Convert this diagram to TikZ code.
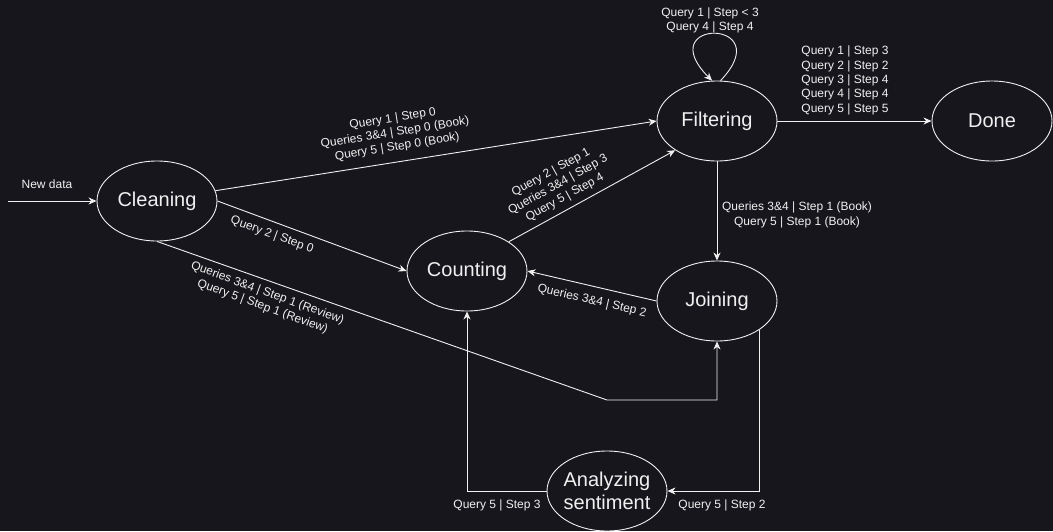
\documentclass[tikz,border=0pt]{standalone}
\usepackage{fontspec}
\setmainfont{Liberation Sans}
\usetikzlibrary{shapes.geometric,arrows.meta}
\definecolor{bgc}{RGB}{24,22,29}
\definecolor{fgc}{RGB}{240,240,240}
\tikzset{
  state/.style={ellipse,draw=fgc,line width=0.9pt,text=fgc,minimum width=120pt,minimum height=80pt,inner sep=0pt,font=\fontsize{20}{23}\selectfont,align=center},
  conn/.style={draw=fgc,line width=0.9pt,-{Stealth[length=8pt,width=7pt,inset=2.5pt]}},
  lbl/.style={text=fgc,font=\fontsize{12}{14.3}\selectfont,align=center,inner sep=0pt}
}
\begin{document}
\begin{tikzpicture}[x=1pt,y=-1pt]
\fill[bgc] (0,0) rectangle (1053,531);
\useasboundingbox (0,0) rectangle (1053,531);
% states
\node[state] (clean) at (157,201) {Cleaning};
\node[state] (filt) at (717,121) {Filtering};
\node[state] (done) at (992,121) {Done};
\node[state] (count) at (467,271) {Counting};
\node[state] (join) at (717,301) {Joining};
\node[state,inner xsep=-4pt] (anal) at (607,491) {Analyzing\\sentiment};
\coordinate (start) at (8,201);
\coordinate (bend) at (607,400);
% connectors
\draw[conn] (start) -- (clean.west);
\draw[conn] (clean.10) -- (filt.west);
\draw[conn] (clean.east) -- (count.west);
\draw[conn] (clean.south) -- (bend) -| (join.south);
\draw[conn] (count.35) -- (filt.215);
\draw[conn] (filt.south) -- (join.north);
\draw[conn] (join.west) -- (count.east);
\draw[conn] (join.south east) |- (anal.east);
\draw[conn] (anal.west) -| (count.south);
\draw[conn] (filt.east) -- (done.west);
\draw[conn] (filt.85) .. controls (780,18) and (650,18) .. (filt.97);
% labels
\node[lbl] (lnew) at (47,184) {New data};
\node[lbl,rotate=9] (lcf) at (395,133) {Query 1 | Step 0\\Queries 3\&4 | Step 0 (Book)\\Query 5 | Step 0 (Book)};
\node[lbl,rotate=-20] (lcc) at (272,235) {Query 2 | Step 0};
\node[lbl,rotate=-20] (lcj) at (265,300) {Queries 3\&4 | Step 1 (Review)\\Query 5 | Step 1 (Review)};
\node[lbl,rotate=29] (lctf) at (558,185) {Query 2 | Step 1\\Queries 3\&4 | Step 3\\Query 5 | Step 4};
\node[lbl] (lfj) at (797,215) {Queries 3\&4 | Step 1 (Book)\\Query 5 | Step 1 (Book)};
\node[lbl,rotate=-13] (ljc) at (592,301) {Queries 3\&4 | Step 2};
\node[lbl] (lja) at (722,505) {Query 5 | Step 2};
\node[lbl] (lac) at (497,505) {Query 5 | Step 3};
\node[lbl] (lloop) at (710,20.5) {Query 1 | Step < 3\\Query 4 | Step 4};
\node[lbl] (lfd) at (845,80.5) {Query 1 | Step 3\\Query 2 | Step 2\\Query 3 | Step 4\\Query 4 | Step 4\\Query 5 | Step 5};
\end{tikzpicture}
\end{document}
